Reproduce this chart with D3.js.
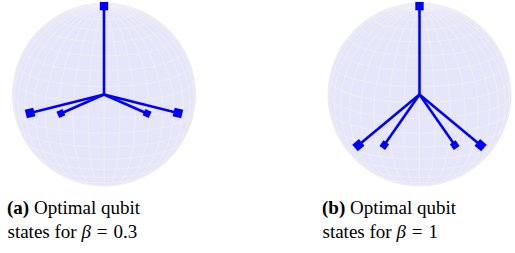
<!DOCTYPE html>
<html>
<head>
<meta charset="utf-8">
<script src="https://cdn.jsdelivr.net/npm/d3@7"></script>
<style>
  body { margin: 0; background: #fff; }
  #wrap { position: relative; width: 515px; height: 253px; }
  svg { position: absolute; left: 0; top: 0; }
  .cap { position: absolute; font-family: 'Liberation Serif', serif; font-size: 19px; line-height: 24px; color: #000; white-space: nowrap; }
</style>
</head>
<body>
<div id="wrap"></div>
<script>
// Bloch vectors as [longitude, latitude] on the sphere (degrees)
const statesA = [[0, 90], [-54, -3], [54, -3], [-148.7, -25], [148.7, -25]];
const statesB = [[0, 90], [-47, -24], [47, -24], [-146, -46.5], [146, -46.5]];
const panelTags = ["(a)", "(b)"];
const betaValues = ["0.3", "1"];

const viewTilt = 15;
const R = 91.5;

const wrap = d3.select("#wrap");
const svg = wrap.append("svg").attr("width", 515).attr("height", 253);

const panels = [
  {states: statesA, tag: panelTags[0], beta: betaValues[0], cx: 104, cy: 94.5, tx: 7},
  {states: statesB, tag: panelTags[1], beta: betaValues[1], cx: 419.5, cy: 94.5, tx: 322}
];

const markerSize = d3.scaleLinear().domain([-1, 1]).range([6.6, 9.4]);

function renderBloch(p) {
  const proj = d3.geoOrthographic()
    .scale(R)
    .translate([p.cx, p.cy])
    .rotate([0, -viewTilt]);
  const path = d3.geoPath(proj);
  const rot = d3.geoRotation([0, -viewTilt]);

  const g = svg.append("g");

  // sphere body
  g.append("path")
    .datum({type: "Sphere"})
    .attr("d", path)
    .attr("fill", "#e6e6fa")
    .attr("stroke", "#e4e4f0")
    .attr("stroke-width", 0.6);

  // faint mesh
  g.append("path")
    .datum(d3.geoGraticule().step([10, 10]).extentMajor([[-180, -90], [180, 90]])())
    .attr("d", path)
    .attr("fill", "none")
    .attr("stroke", "#f2f2f2")
    .attr("stroke-opacity", 0.8)
    .attr("stroke-width", 0.7);

  const origin = proj.translate();

  const vecs = p.states.map(s => {
    const end = proj(s);
    const r = rot(s);
    const depth = Math.cos(r[1] * Math.PI / 180) * Math.cos(r[0] * Math.PI / 180);
    const ang = Math.atan2(end[1] - origin[1], end[0] - origin[0]) * 180 / Math.PI;
    return {x: end[0], y: end[1], depth: depth, ang: ang};
  }).sort((a, b) => a.depth - b.depth);

  g.selectAll("line.vec")
    .data(vecs)
    .enter().append("line")
      .attr("class", "vec")
      .attr("x1", origin[0])
      .attr("y1", origin[1])
      .attr("x2", d => d.x)
      .attr("y2", d => d.y)
      .attr("stroke", "#0000ff")
      .attr("stroke-width", 2.6);

  g.selectAll("rect.tip")
    .data(vecs)
    .enter().append("rect")
      .attr("class", "tip")
      .attr("x", d => -markerSize(d.depth) / 2)
      .attr("y", d => -markerSize(d.depth) / 2)
      .attr("width", d => markerSize(d.depth))
      .attr("height", d => markerSize(d.depth))
      .attr("transform", d => "translate(" + d.x + "," + d.y + ") rotate(" + d.ang + ")")
      .attr("fill", "#0000ff");

  // caption (html text, baselines at ~214 and ~238)
  const cap = wrap.append("div")
    .attr("class", "cap")
    .style("left", p.tx + "px")
    .style("top", "195.6px");
  const l1 = cap.append("div");
  l1.append("b").text(p.tag);
  l1.append("span").text(" Optimal qubit");
  const l2 = cap.append("div").style("padding-left", "0.5px");
  l2.append("span").text("states for ");
  l2.append("i").text("β");
  l2.append("span").style("margin", "0 6px").text("=");
  l2.append("span").text(p.beta);
}

panels.forEach(renderBloch);
</script>
</body>
</html>
